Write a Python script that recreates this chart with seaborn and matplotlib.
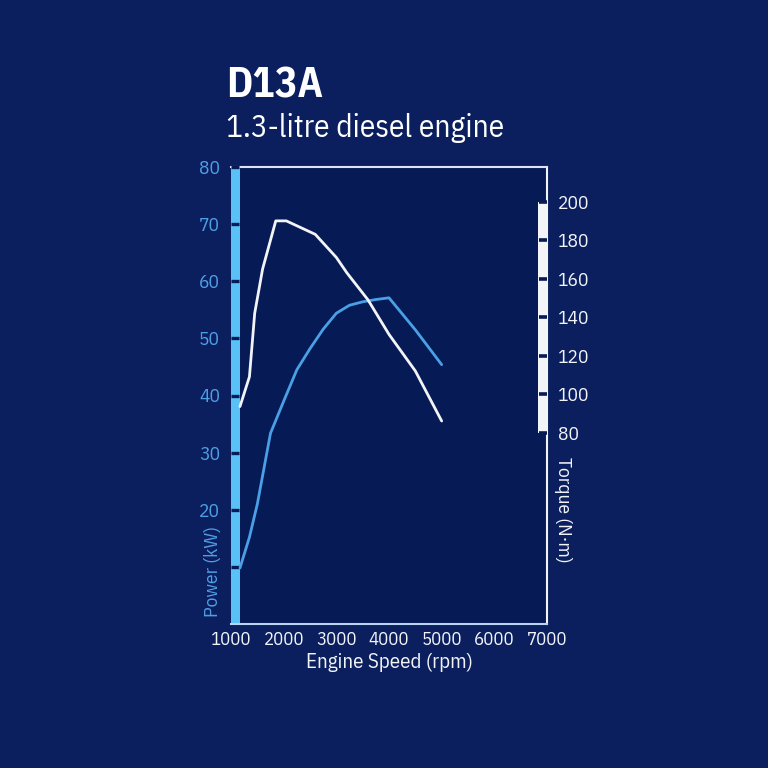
import matplotlib
matplotlib.use('Agg')
import matplotlib.pyplot as plt
from matplotlib import font_manager as fm
import seaborn as sns
import pandas as pd

# Engine curve data
power_rpm = [1170, 1350, 1500, 1750, 2000, 2250, 2500, 2750, 3000, 3250, 3500, 3750, 4000, 4500, 5000]
power_kw = [9.8, 15.2, 21.0, 33.4, 39.0, 44.5, 48.2, 51.6, 54.4, 55.8, 56.4, 56.8, 57.1, 51.5, 45.4]

torque_rpm = [1170, 1350, 1450, 1600, 1850, 2050, 2600, 3000, 3200, 3600, 4000, 4500, 5000]
torque_nm = [93.5, 109, 142, 165, 190, 190, 183, 171, 163, 149, 131, 112, 86]

x_ticks = [1000, 2000, 3000, 4000, 5000, 6000, 7000]
power_ticks = [10, 20, 30, 40, 50, 60, 70, 80]
power_labels = ['', '20', '30', '40', '50', '60', '70', '80']
torque_ticks = [80, 100, 120, 140, 160, 180, 200]

bg = '#0b1f5e'
inner = '#061a55'
light_blue = '#5ac1f6'
power_col = '#4aa0e6'
label_blue = '#4f9fe6'
white = '#f2f4f8'

# pick a condensed face if one is around
available = {f.name for f in fm.fontManager.ttflist}
wanted = ['IBM Plex Sans Condensed', 'Fira Sans Condensed', 'Roboto Condensed',
          'PT Sans Narrow', 'Archivo Narrow', 'Liberation Sans Narrow']
cond = [n for n in wanted if n in available][:1]

sns.set_style('dark')
plt.rcParams['font.family'] = cond + ['DejaVu Sans']

fig = plt.figure(figsize=(7.68, 7.68), dpi=100, facecolor=bg)
ax = fig.add_axes([231 / 768, 1 - 624 / 768, 316 / 768, 457 / 768])
ax.set_facecolor(inner)
ax.set_axisbelow(False)

power_df = pd.DataFrame({'rpm': power_rpm, 'kw': power_kw})
torque_df = pd.DataFrame({'rpm': torque_rpm, 'nm': torque_nm})

ax.axvspan(1000, 1165, color=light_blue, zorder=1, lw=0)
sns.lineplot(data=power_df, x='rpm', y='kw', ax=ax, color=power_col, lw=2, zorder=3)

ax.set_xlim(1000, 7000)
ax.set_ylim(0, 80)
ax.set_xticks(x_ticks)
ax.set_yticks(power_ticks)
ax.set_yticklabels(power_labels)
ax.tick_params(axis='y', direction='in', length=6, width=2.4, color=inner,
               labelcolor=label_blue, labelsize=14, pad=8)
ax.tick_params(axis='x', direction='in', length=4, width=1.5, color=white,
               labelcolor=white, labelsize=13.5, pad=5)
ax.set_xlabel('Engine Speed (rpm)', color=white, fontsize=15, labelpad=3)
ax.set_ylabel('')
ax.grid(False)
for side in ['top', 'right', 'bottom']:
    ax.spines[side].set_visible(True)
    ax.spines[side].set_linewidth(1.5)
ax.spines['top'].set_color('#dfe3f5')
ax.spines['bottom'].set_color('#b9d3f3')
ax.spines['right'].set_color(white)
ax.spines['left'].set_visible(False)

ax.text(-0.057, 0.015, 'Power (kW)', transform=ax.transAxes, rotation=90,
        ha='center', va='bottom', color=label_blue, fontsize=14)

ax2 = ax.twinx()
ax2.set_axisbelow(False)
ax2.fill_betweenx([80, 200], 6830, 7000, color=white, lw=0, zorder=1)
sns.lineplot(data=torque_df, x='rpm', y='nm', ax=ax2, color=white, lw=2, zorder=3)
ax2.set_ylim(-19.5, 218)
ax2.set_xlim(1000, 7000)
ax2.set_yticks(torque_ticks)
ax2.tick_params(axis='y', direction='in', length=6, width=2.6, color=inner,
                labelcolor=white, labelsize=14, pad=8)
ax2.set_ylabel('')
ax2.set_xlabel('')
ax2.grid(False)
for s in ax2.spines.values():
    s.set_visible(False)

ax2.text(1.05, 0.365, 'Torque (N·m)', transform=ax2.transAxes, rotation=-90,
         ha='center', va='top', color=white, fontsize=14)

fig.text(226 / 768, 1 - 98 / 768, 'D13A', color='white', fontsize=30,
         fontweight='bold', ha='left', va='baseline')
fig.text(226 / 768, 1 - 137 / 768, '1.3-litre diesel engine', color='white',
         fontsize=22.5, ha='left', va='baseline')

fig.savefig('out.png', dpi=100, facecolor=bg)
